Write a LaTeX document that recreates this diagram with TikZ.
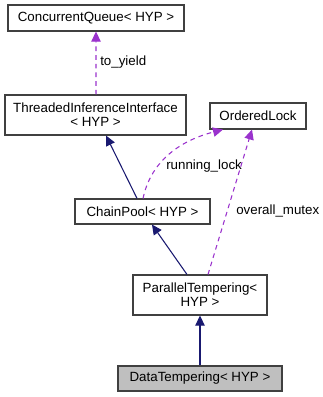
\documentclass[tikz,border=0pt]{standalone}
\usepackage{fontspec}
\setmainfont{Liberation Sans}
\usetikzlibrary{arrows.meta}

\definecolor{inheritblue}{HTML}{191970}
\definecolor{usagepurple}{HTML}{9A32CD}
\definecolor{boxframe}{HTML}{404040}

\begin{document}
\begin{tikzpicture}[
        x=0.75pt, y=-0.75pt,
        font=\fontsize{10}{10.5}\selectfont,
        cls/.style={draw=boxframe, line width=0.8pt, fill=white, inner sep=0pt, align=center},
        inherit/.style={inheritblue, line width=0.8pt, -{Triangle[length=7.5pt,width=7pt]}},
        usage/.style={usagepurple, line width=0.8pt, dash pattern=on 3.5pt off 3pt,
            -{Triangle[length=7.5pt,width=7pt]}},
        lbl/.style={inner sep=0pt, anchor=west}
    ]
        \useasboundingbox (0,0) rectangle (323,397);

        % classes
        \node[cls, minimum width=132pt, minimum height=19.5pt] (queue) at (96,18) {ConcurrentQueue< HYP >};
        \node[cls, minimum width=135.75pt, minimum height=30pt] (iface) at (95.5,115) {ThreadedInferenceInterface\\< HYP >};
        \node[cls, minimum width=72pt, minimum height=19.5pt] (lock) at (258,116) {OrderedLock};
        \node[cls, minimum width=101.25pt, minimum height=18.75pt] (pool) at (142.5,211.5) {ChainPool< HYP >};
        \node[cls, minimum width=100.5pt, minimum height=30pt] (tempering) at (200,295) {ParallelTempering<\\HYP >};
        \node[cls, fill=black!25, minimum width=123pt, minimum height=18.75pt] (data) at (200,378.5) {DataTempering< HYP >};

        % base classes
        \draw[inherit] (data.north) -- (tempering.south);
        \draw[inherit] ([xshift=-9.75pt]tempering.north) -- ([xshift=7.1pt]pool.south);
        \draw[inherit] ([xshift=-4.1pt]pool.north) -- ([xshift=7.9pt]iface.south);

        % members
        \draw[usage] ([xshift=0.4pt]iface.north) -- (queue.south);
        \node[lbl] (yieldlbl) at (100,62) {to\_yield};
        \draw[usage] ([xshift=0.4pt]pool.north) .. controls (150,165) and (175,142) .. ([xshift=-26.25pt]lock.south);
        \node[lbl] (runlbl) at (166,166) {running\_lock};
        \draw[usage] ([xshift=6pt]tempering.north) -- ([xshift=-4.5pt]lock.south);
        \node[lbl] (mutexlbl) at (236,211) {overall\_mutex};
    \end{tikzpicture}
\end{document}
